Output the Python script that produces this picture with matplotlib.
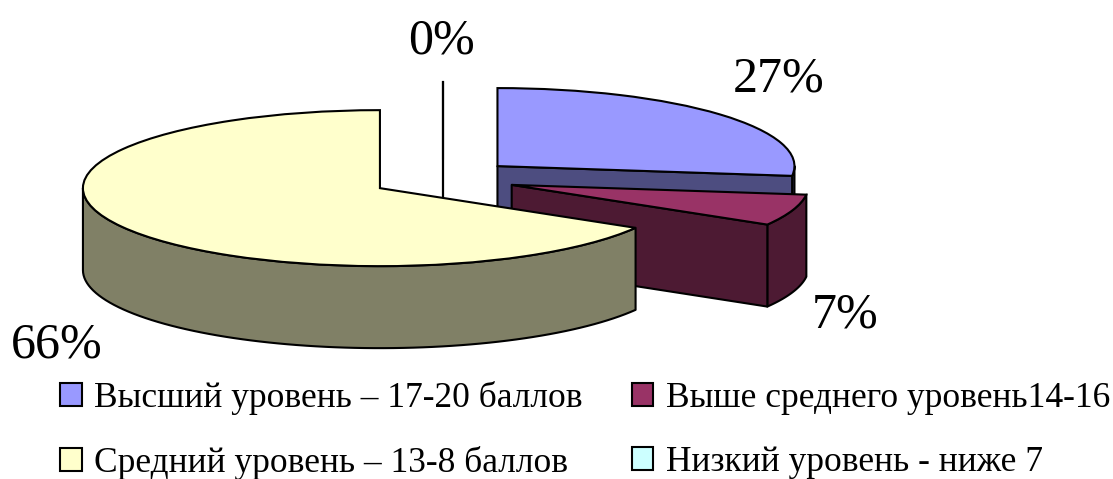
import numpy as np
import matplotlib
matplotlib.use("Agg")
import matplotlib.pyplot as plt
from matplotlib.patches import Polygon

plt.rcParams['font.family'] = ['Liberation Serif', 'DejaVu Serif']

# donnees du graphique
categories = ["Высший уровень – 17-20 баллов", "Выше среднего уровень14-16",
              "Средний уровень – 13-8 баллов", "Низкий уровень - ниже 7"]
values = [27, 6.5, 66.5, 0]
percent_labels = ["27%", "7%", "66%", "0%"]
top_colors = ["#9999ff", "#993366", "#ffffcc", "#ccffff"]
side_colors = ["#4d4d80", "#4d1a33", "#808066", "#668080"]

# mise en page, en pixels de l'image
W, H = 1113, 479
CX, CY = 443, 178.7
RX, RY = 297, 78
DEPTH = 82 / RY
EXPLODE = 72.6 / RX
label_px = [(733, 92), (812, 327), (11, 358), (408, 54)]

fig = plt.figure(figsize=(W / 100, H / 100), dpi=100)
ax = fig.add_axes([0, 0, 1, 1])

wedges, _ = ax.pie(values, colors=top_colors, startangle=90, counterclock=False,
                   explode=[EXPLODE] * 4,
                   wedgeprops=dict(edgecolor="black", linewidth=1.5))
ax.set_aspect("auto")
ax.set_xlim(-CX / RX, (W - CX) / RX)
ax.set_ylim(-(H - CY) / RY, CY / RY)


def rim(cx, cy, angles):
    # le tour de la part : bord haut puis bord bas
    px = cx + np.cos(np.radians(angles))
    py = cy + np.sin(np.radians(angles))
    return np.vstack([np.column_stack([px, py]),
                      np.column_stack([px[::-1], py[::-1] - DEPTH])])


for i, w in enumerate(wedges):
    cx, cy = w.center
    w.set_zorder(2 * i + 2)
    side_kw = dict(facecolor=side_colors[i], edgecolor="black", linewidth=1.5,
                   joinstyle="round", zorder=2 * i + 1)
    if values[i] == 0:
        # part vide : seulement un trait vertical derriere les autres
        ax.plot([cx, cx], [cy + 1, cy - DEPTH], color="black", lw=1.6, zorder=0.5)
        w.set_zorder(0.5)
        continue
    lo, hi = max(w.theta1, -180), min(w.theta2, 0)
    if lo < hi:
        ax.add_patch(Polygon(rim(cx, cy, np.linspace(lo, hi, 80)), closed=True, **side_kw))
    if -90 < w.theta1 < 0:
        ex = cx + np.cos(np.radians(w.theta1))
        ey = cy + np.sin(np.radians(w.theta1))
        ax.add_patch(Polygon([(cx, cy), (ex, ey), (ex, ey - DEPTH), (cx, cy - DEPTH)],
                             closed=True, **side_kw))

# etiquettes des pourcentages
for txt, (px, py) in zip(percent_labels, label_px):
    ax.text((px - CX) / RX, (CY - py) / RY, txt, fontsize=36, color="black",
            ha="left", va="baseline", zorder=20)

# legende, remplie par colonnes
order = [0, 2, 1, 3]
leg = ax.legend([wedges[i] for i in order], [categories[i] for i in order],
                ncols=2, frameon=False, fontsize=25.5, loc="upper left",
                bbox_to_anchor=(60 / W, 1 - 381 / H), borderpad=0, borderaxespad=0,
                handlelength=0.62, handleheight=0.62, handletextpad=0.34,
                labelspacing=0.88, columnspacing=1.38)
leg.set_zorder(30)

fig.savefig("out.png", dpi=100)
